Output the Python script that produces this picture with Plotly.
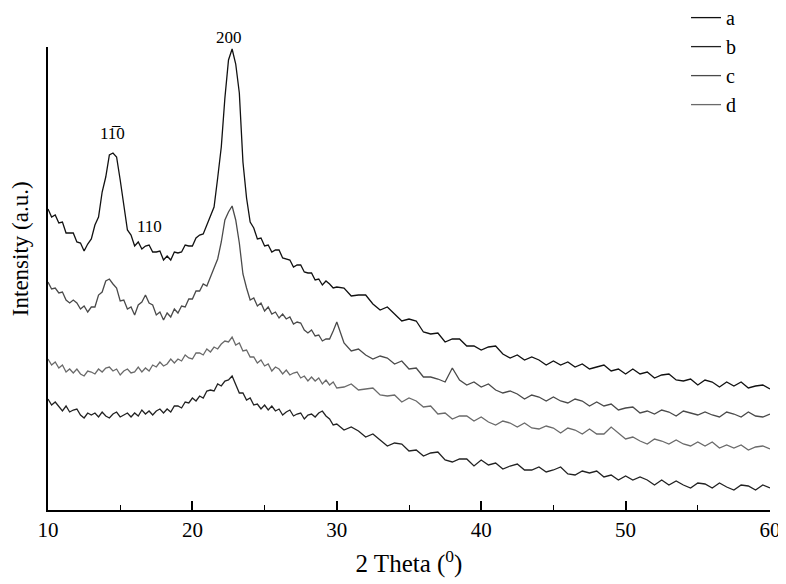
import plotly.graph_objects as go

# 2-theta sampling grid (degrees)
two_theta = [
    10.0, 10.25, 10.5, 10.75, 11.0, 11.25, 11.5, 11.75, 12.0, 12.25, 12.5, 12.75, 13.0,
    13.25, 13.5, 13.75, 14.0, 14.25, 14.5, 14.75, 15.0, 15.25, 15.5, 15.75, 16.0,
    16.25, 16.5, 16.75, 17.0, 17.25, 17.5, 17.75, 18.0, 18.25, 18.5, 18.75, 19.0,
    19.25, 19.5, 19.75, 20.0, 20.25, 20.5, 20.75, 21.0, 21.25, 21.5, 21.75, 22.0,
    22.25, 22.5, 22.75, 23.0, 23.25, 23.5, 23.75, 24.0, 24.25, 24.5, 24.75, 25.0,
    25.25, 25.5, 25.75, 26.0, 26.25, 26.5, 26.75, 27.0, 27.25, 27.5, 27.75, 28.0,
    28.25, 28.5, 28.75, 29.0, 29.25, 29.5, 29.75, 30.0,
    30.5, 31.0, 31.5, 32.0, 32.5, 33.0, 33.5, 34.0, 34.5, 35.0,
    35.5, 36.0, 36.5, 37.0, 37.5, 38.0, 38.5, 39.0, 39.5, 40.0,
    40.5, 41.0, 41.5, 42.0, 42.5, 43.0, 43.5, 44.0, 44.5, 45.0,
    45.5, 46.0, 46.5, 47.0, 47.5, 48.0, 48.5, 49.0, 49.5, 50.0,
    50.5, 51.0, 51.5, 52.0, 52.5, 53.0, 53.5, 54.0, 54.5, 55.0,
    55.5, 56.0, 56.5, 57.0, 57.5, 58.0, 58.5, 59.0, 59.5, 60.0,
]

# Intensities (a.u., offset-stacked as in the figure)
int_a = [
    301, 293, 295, 287, 288, 277, 277, 277, 268, 267, 259, 266, 271,
    285, 293, 318, 333, 355, 357, 353, 330, 303, 280, 275, 264,
    268, 261, 264, 265, 258, 258, 259, 250, 254, 250, 258, 257,
    258, 265, 264, 264, 272, 275, 276, 285, 294, 303, 332, 363,
    412, 450, 461, 446, 417, 348, 312, 288, 282, 271, 272, 264,
    265, 258, 260, 260, 252, 251, 250, 243, 245, 245, 238, 237,
    237, 230, 231, 225, 229, 226, 222, 223,
    222, 214, 215, 215, 206, 200, 203, 196, 189, 191,
    189, 178, 176, 177, 168, 171, 171, 164, 164, 160,
    163, 164, 156, 152, 155, 150, 153, 150, 145, 149,
    145, 148, 143, 146, 141, 143, 145, 139, 141, 136,
    141, 136, 138, 132, 135, 136, 130, 129, 131, 125,
    130, 128, 123, 128, 124, 128, 122, 124, 125, 121,
]

int_b = [
    111, 105, 108, 103, 99, 104, 98, 100, 101, 95, 92, 97, 95,
    97, 93, 98, 94, 92, 96, 98, 93, 95, 97, 93, 97,
    94, 100, 96, 99, 95, 99, 101, 97, 101, 98, 104, 104,
    102, 108, 107, 112, 109, 114, 112, 119, 120, 119, 126, 124,
    129, 130, 134, 126, 117, 117, 110, 112, 105, 106, 101, 105,
    100, 104, 99, 101, 95, 98, 100, 94, 96, 97, 91, 95,
    96, 93, 97, 99, 94, 91, 85, 86,
    80, 83, 79, 73, 76, 70, 64, 67, 66, 59,
    60, 54, 57, 58, 50, 48, 51, 51, 44, 50,
    45, 47, 41, 44, 46, 40, 40, 43, 38, 40,
    43, 36, 35, 39, 37, 39, 33, 35, 30, 34,
    30, 33, 30, 25, 30, 25, 29, 25, 22, 27,
    26, 22, 27, 23, 20, 25, 24, 20, 25, 22,
]

int_c = [
    228, 221, 222, 217, 218, 210, 207, 210, 207, 201, 204, 198, 203,
    203, 215, 218, 229, 231, 226, 222, 209, 210, 201, 203, 195,
    205, 208, 215, 207, 205, 195, 198, 190, 197, 193, 201, 197,
    204, 203, 211, 211, 219, 219, 226, 224, 234, 242, 251, 268,
    290, 298, 304, 290, 267, 236, 222, 210, 212, 204, 207, 199,
    203, 196, 198, 192, 196, 191, 193, 186, 188, 187, 180, 177,
    180, 174, 175, 169, 171, 171, 179, 188,
    167, 159, 161, 155, 151, 154, 152, 146, 149, 141,
    142, 133, 133, 131, 128, 142, 130, 125, 128, 123,
    126, 120, 117, 119, 116, 111, 115, 113, 109, 113,
    109, 107, 111, 109, 104, 108, 104, 106, 100, 102,
    103, 97, 99, 96, 100, 98, 94, 99, 97, 95,
    98, 95, 93, 98, 96, 93, 98, 94, 93, 96,
]

int_d = [
    151, 145, 148, 142, 145, 138, 141, 137, 141, 136, 134, 139, 138,
    136, 141, 138, 142, 143, 139, 141, 135, 139, 141, 137, 138,
    143, 138, 142, 139, 145, 143, 148, 144, 146, 151, 147, 151,
    149, 155, 152, 151, 157, 157, 155, 161, 158, 163, 161, 166,
    169, 168, 173, 165, 167, 159, 160, 153, 153, 147, 150, 144,
    146, 139, 143, 141, 136, 140, 135, 137, 138, 132, 134, 129,
    133, 129, 132, 126, 130, 125, 128, 122,
    123, 126, 120, 121, 122, 115, 114, 115, 108, 112,
    109, 103, 104, 96, 97, 91, 94, 94, 89, 93,
    88, 85, 89, 87, 83, 87, 82, 81, 84, 82,
    77, 82, 80, 76, 81, 76, 76, 83, 77, 71,
    73, 69, 66, 71, 69, 66, 70, 66, 64, 68,
    64, 68, 62, 65, 62, 65, 60, 63, 64, 61,
]

series_names = ["a", "b", "c", "d"]
series_values = [int_a, int_b, int_c, int_d]
series_colors = ["#111111", "#222222", "#4a4a4a", "#6a6a6a"]

peak_labels = ["200", "11\u03050", "110"]
peak_x = [22.55, 14.5, 17.05]
peak_y = [462, 377, 284]
peak_shift = [11, 0, 0]

fig = go.Figure()
for name, vals, col in zip(series_names, series_values, series_colors):
    fig.add_trace(go.Scatter(x=two_theta, y=vals, mode="lines", name=name,
                             line=dict(color=col, width=1.3)))

for txt, px, py, sh in zip(peak_labels, peak_x, peak_y, peak_shift):
    fig.add_annotation(x=px, y=py, text=txt, showarrow=False, yshift=sh,
                       font=dict(family="Liberation Serif", size=17, color="black"))

# y-axis title (placed as a rotated annotation, centred like the original)
fig.add_annotation(xref="paper", yref="paper", x=-0.037, y=0.564,
                   text="Intensity (a.u.)", textangle=-90, showarrow=False,
                   xanchor="center", yanchor="middle",
                   font=dict(family="Liberation Serif", size=23, color="black"))

fig.update_layout(
    width=778, height=576,
    margin=dict(l=40, r=16, t=39, b=74, autoexpand=False),
    plot_bgcolor="white", paper_bgcolor="white",
    font=dict(family="Liberation Serif", color="black"),
    legend=dict(x=0.8837, y=1.1056, xanchor="left", yanchor="top",
                font=dict(size=20, family="Liberation Serif"),
                bgcolor="rgba(0,0,0,0)", tracegroupgap=0),
)
fig.update_xaxes(
    range=[10, 60], tick0=10, dtick=10, automargin=False,
    showline=True, linecolor="black", linewidth=1.5,
    ticks="inside", ticklen=9, tickwidth=1.5, tickcolor="black",
    minor=dict(ticks="inside", ticklen=5, dtick=5, tickcolor="black", tickwidth=1.2),
    showgrid=False, zeroline=False,
    tickfont=dict(size=21, family="Liberation Serif"),
    title=dict(text="2 Theta (<sup>0</sup>)", font=dict(size=25, family="Liberation Serif"), standoff=14),
)
fig.update_yaxes(
    range=[0, 463], showline=True, linecolor="black", linewidth=1.5, automargin=False,
    showticklabels=False, ticks="", showgrid=False, zeroline=False,
)

fig.write_html("out.html")
